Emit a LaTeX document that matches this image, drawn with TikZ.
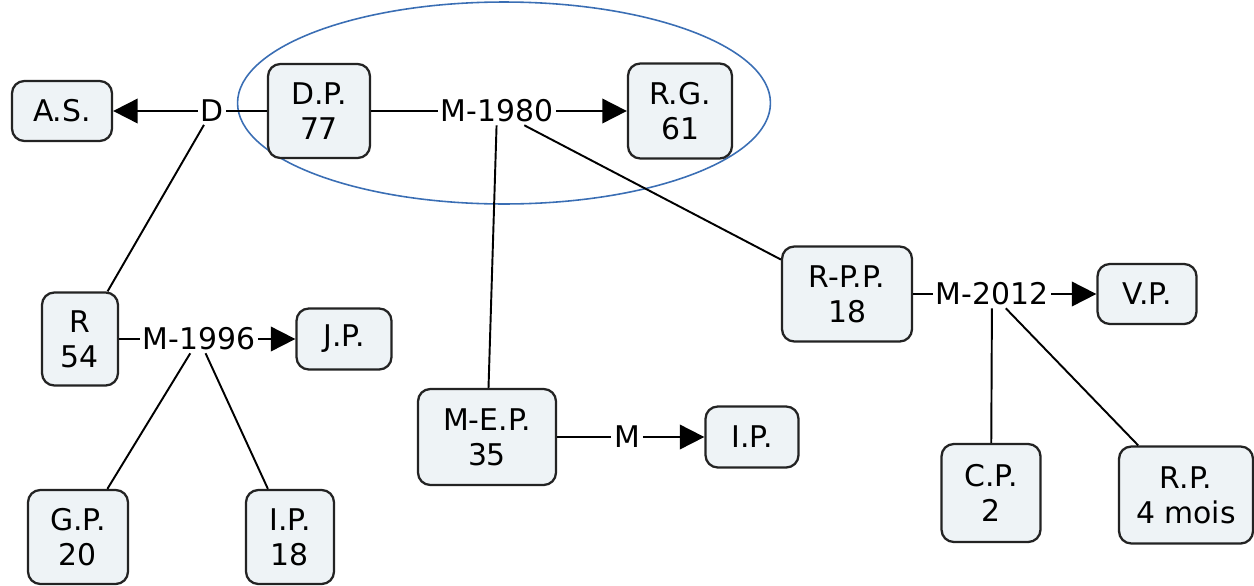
\documentclass[tikz,border=0pt]{standalone}
\usepackage{fontspec}
\setmainfont{DejaVu Sans}
\usetikzlibrary{arrows.meta}
\definecolor{boxfill}{RGB}{238,243,246}
\definecolor{boxline}{RGB}{35,35,35}
\definecolor{ellblue}{RGB}{58,110,180}
\tikzset{
  person/.style={draw=boxline, fill=boxfill, line width=1.3pt, rounded corners=7pt,
    align=center, inner sep=2pt, font=\fontsize{17pt}{20pt}\selectfont},
  rel/.style={inner sep=1.5pt, font=\fontsize{17pt}{20pt}\selectfont},
  link/.style={draw=black, line width=1.1pt},
  arr/.style={link, -{Triangle[length=14pt,width=14pt]}},
}
\begin{document}
\begin{tikzpicture}[x=0.02cm, y=-0.02cm]
\useasboundingbox (0,0) rectangle (1254,585);
\draw[ellblue, line width=0.9pt] (504,103) ellipse [x radius=5.33cm, y radius=2.02cm];
% persons
\node[person, minimum width=2cm, minimum height=1.2cm] (as) at (62,111) {A.S.};
\node[person, minimum width=2.04cm, minimum height=1.88cm] (dp) at (319,111) {D.P.\\77};
\node[person, minimum width=2.08cm, minimum height=1.9cm] (rg) at (680,111) {R.G.\\61};
\node[person, minimum width=1.52cm, minimum height=1.86cm] (r) at (80,339) {R\\54};
\node[person, minimum width=1.9cm, minimum height=1.22cm] (jp) at (344,339) {J.P.};
\node[person, minimum width=2.76cm, minimum height=1.92cm] (mep) at (487,437) {M-E.P.\\35};
\node[person, minimum width=1.86cm, minimum height=1.22cm] (ip) at (752,437) {I.P.};
\node[person, minimum width=2.6cm, minimum height=1.9cm] (rpp) at (847,294) {R-P.P.\\18};
\node[person, minimum width=1.98cm, minimum height=1.2cm] (vp) at (1147,294) {V.P.};
\node[person, minimum width=2cm, minimum height=1.88cm] (gp) at (78,537) {G.P.\\20};
\node[person, minimum width=1.76cm, minimum height=1.88cm] (ipb) at (290,537) {I.P.\\18};
\node[person, minimum width=1.98cm, minimum height=1.96cm] (cp) at (991,493) {C.P.\\2};
\node[person, minimum width=2.68cm, minimum height=1.94cm] (rp) at (1186,495) {R.P.\\4 mois};
% relations
\node[rel] (d) at (212,111) {D};
\node[rel] (m80) at (497,111) {M-1980};
\node[rel] (m96) at (199,339) {M-1996};
\node[rel] (m) at (627,437) {M};
\node[rel] (m12) at (992,294) {M-2012};
% connectors
\draw[link] (dp) -- (d);
\draw[arr] (d) -- (as);
\draw[link] (d) -- (r);
\draw[link] (dp) -- (m80);
\draw[arr] (m80) -- (rg);
\draw[link] (m80) -- (mep);
\draw[link] (m80) -- (rpp);
\draw[link] (r) -- (m96);
\draw[arr] (m96) -- (jp);
\draw[link] (m96) -- (gp);
\draw[link] (m96) -- (ipb);
\draw[link] (mep) -- (m);
\draw[arr] (m) -- (ip);
\draw[link] (rpp) -- (m12);
\draw[arr] (m12) -- (vp);
\draw[link] (m12) -- (cp);
\draw[link] (m12) -- (rp);
\end{tikzpicture}
\end{document}
